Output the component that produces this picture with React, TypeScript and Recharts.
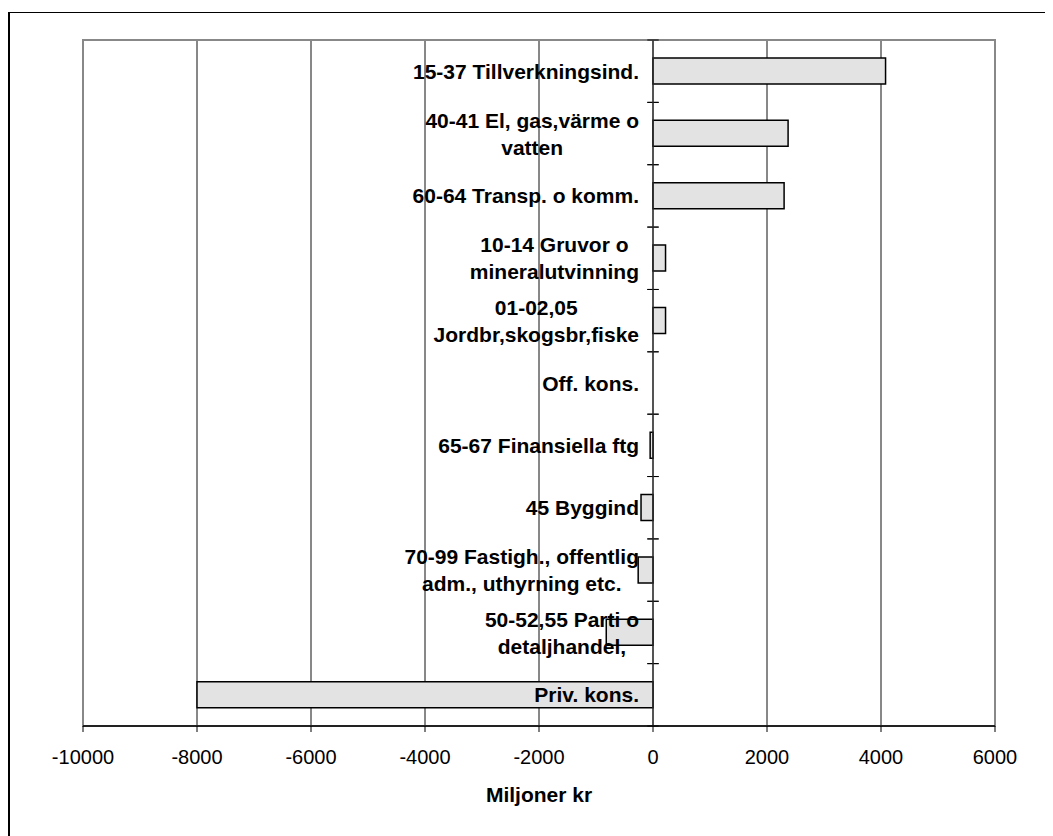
import React from 'react';
import {
  BarChart, Bar, XAxis, YAxis, CartesianGrid, ReferenceLine, ReferenceArea,
} from 'recharts';

const categories = [
  '15-37 Tillverkningsind.',
  '40-41 El, gas,värme o\nvatten',
  '60-64 Transp. o komm.',
  '10-14 Gruvor o\nmineralutvinning',
  '01-02,05\nJordbr,skogsbr,fiske',
  'Off. kons.',
  '65-67 Finansiella ftg',
  '45 Byggind',
  '70-99 Fastigh., offentlig\nadm., uthyrning etc.',
  '50-52,55 Parti o\ndetaljhandel,',
  'Priv. kons.',
];
const values = [4080, 2370, 2300, 220, 220, 0, -50, -210, -260, -820, -8000];
const xTicks = [-10000, -8000, -6000, -4000, -2000, 0, 2000, 4000, 6000];
const xLabel = 'Miljoner kr';

const data = categories.map((name, i) => ({ name, value: values[i] }));

const FONT = '"Liberation Sans", Arial, Helvetica, sans-serif';
const LABEL_SIZE = 21;
const LINE_H = 27;

let canvasCtx: CanvasRenderingContext2D | null = null;
function measure(text: string): number {
  try {
    if (!canvasCtx) {
      const c = document.createElement('canvas');
      canvasCtx = c.getContext('2d');
    }
    if (canvasCtx) {
      canvasCtx.font = `bold ${LABEL_SIZE}px "Liberation Sans", Arial, sans-serif`;
      return canvasCtx.measureText(text).width;
    }
  } catch (e) {
    // ignore
  }
  return text.length * LABEL_SIZE * 0.55;
}

const makeCategoryLabel = (cat: string) => (props: any) => {
  const vb = props.viewBox || {};
  const zero = (vb.x ?? 0) + (vb.width ?? 0);
  const cy = (vb.y ?? 0) + (vb.height ?? 0) / 2;
  const lines = cat.split('\n');
  const boxW = Math.max(...lines.map(measure));
  const right = zero - 14;
  const cx = right - boxW / 2;
  const firstBaseline = cy - ((lines.length - 1) * LINE_H) / 2 + LABEL_SIZE * 0.36;
  return (
    <text
      textAnchor="middle"
      fontFamily={FONT}
      fontWeight="bold"
      fontSize={LABEL_SIZE}
      fill="#000"
    >
      {lines.map((ln, j) => (
        <tspan key={j} x={cx} y={firstBaseline + j * LINE_H}>
          {ln}
        </tspan>
      ))}
    </text>
  );
};

// draws the small cross ticks at the top and bottom edge of a category band
const bandTickShape = (props: any) => {
  const { x, y, width, height } = props;
  if (![x, y, width, height].every((v) => typeof v === 'number' && isFinite(v))) return <g />;
  return (
    <g>
      <line x1={x} x2={x + width} y1={y} y2={y} stroke="#000" strokeWidth={1} />
      <line x1={x} x2={x + width} y1={y + height} y2={y + height} stroke="#000" strokeWidth={1} />
    </g>
  );
};

const borderShape = (props: any) => {
  const { x, y, width, height } = props;
  if (![x, y, width, height].every((v) => typeof v === 'number' && isFinite(v))) return <g />;
  return (
    <rect x={x} y={y} width={width} height={height} fill="none" stroke="#888" strokeWidth={2} />
  );
};

const renderXLabel = (props: any) => {
  const vb = props.viewBox || {};
  return (
    <text
      x={vb.x + vb.width / 2}
      y={vb.y + 76}
      textAnchor="middle"
      fontFamily={FONT}
      fontWeight="bold"
      fontSize={LABEL_SIZE}
      fill="#000"
    >
      {xLabel}
    </text>
  );
};

export default function App() {
  return (
    <div style={{ position: 'relative', width: 1045, height: 828 }}>
      <div
        style={{
          position: 'absolute',
          left: 0,
          top: 4,
          width: 1045,
          height: 824,
          borderTop: '1.5px solid #000',
          borderLeft: '2px solid #000',
          boxSizing: 'border-box',
          pointerEvents: 'none',
        }}
      />
      <BarChart
        width={1045}
        height={828}
        layout="vertical"
        data={data}
        margin={{ top: 32, right: 58, bottom: 30, left: 75 }}
      >
        <CartesianGrid horizontal={false} vertical stroke="#111" yAxisId="cat" />
        <XAxis
          type="number"
          domain={[-10000, 6000]}
          ticks={xTicks}
          interval={0}
          allowDataOverflow
          tickSize={6}
          tickMargin={18}
          height={80}
          axisLine={{ stroke: '#000', strokeWidth: 1.5 }}
          tickLine={{ stroke: '#000' }}
          tick={{ fontSize: 20, fill: '#000', fontFamily: FONT }}
          label={{ content: renderXLabel }}
        />
        <YAxis yAxisId="cat" type="category" dataKey="name" hide />
        <ReferenceArea
          yAxisId="cat"
          x1={-10000}
          x2={6000}
          y1={categories[0]}
          y2={categories[categories.length - 1]}
          ifOverflow="visible"
          shape={borderShape}
        />
        <Bar
          yAxisId="cat"
          dataKey="value"
          fill="#e3e3e3"
          stroke="#000"
          strokeWidth={1.5}
          barSize={26}
          isAnimationActive={false}
        />
        <ReferenceLine yAxisId="cat" x={0} stroke="#333" strokeWidth={1.2} />
        {categories.map((cat) => (
          <ReferenceArea
            key={`t-${cat}`}
            yAxisId="cat"
            x1={-100}
            x2={100}
            y1={cat}
            y2={cat}
            ifOverflow="visible"
            shape={bandTickShape}
          />
        ))}
        {categories.map((cat) => (
          <ReferenceLine
            key={`l-${cat}`}
            yAxisId="cat"
            segment={[
              { x: -1, y: cat },
              { x: 0, y: cat },
            ]}
            stroke="none"
            strokeOpacity={0}
            label={{ content: makeCategoryLabel(cat) }}
          />
        ))}
      </BarChart>
    </div>
  );
}
